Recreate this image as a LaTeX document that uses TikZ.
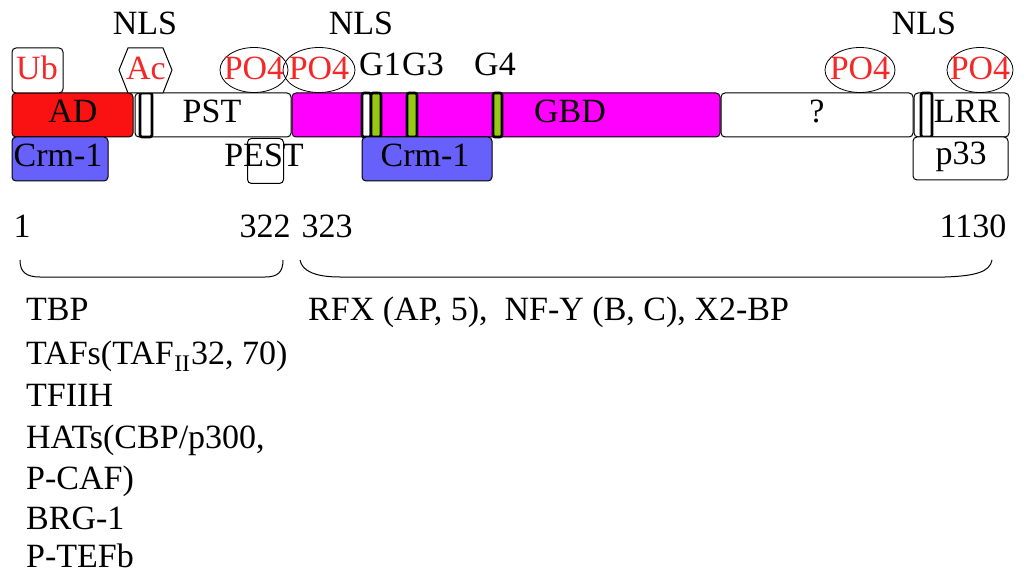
\documentclass[tikz,border=0pt]{standalone}
\usepackage{fontspec}
\setmainfont{Liberation Serif}
\usetikzlibrary{shapes.geometric}
\definecolor{adred}{RGB}{250,18,18}
\definecolor{gbdmag}{RGB}{255,0,255}
\definecolor{crmblue}{RGB}{104,96,250}
\definecolor{ggreen}{RGB}{150,200,20}
\definecolor{lblred}{RGB}{245,40,40}
\begin{document}
\begin{tikzpicture}[x=1pt,y=-1pt,
  seg/.style={draw, line width=1pt, rounded corners=4pt, inner sep=0pt, outer sep=0pt, anchor=north west},
  txt/.style={font=\fontsize{34}{40}\selectfont, inner sep=0pt, anchor=base},
  ltxt/.style={txt, anchor=base west},
  rtxt/.style={txt, text=lblred},
  nlsbar/.style={draw, line width=2.6pt, fill=white, rounded corners=2pt, inner sep=0pt, outer sep=0pt, anchor=north west, minimum height=44pt},
  gbar/.style={nlsbar, fill=ggreen},
  po/.style={ellipse, draw, line width=0.8pt, inner sep=0pt, minimum height=45pt},
  brace/.style={line width=1pt}
]
\useasboundingbox (0,0) rectangle (1024,577);

% main bar
\node[seg, fill=adred, minimum width=121pt, minimum height=44pt] (ad) at (12,93) {};
\node[seg, fill=white, minimum width=156pt, minimum height=44pt] (pst) at (135,93) {};
\node[seg, fill=gbdmag, minimum width=428pt, minimum height=44pt] (gbd) at (292,93) {};
\node[seg, fill=white, minimum width=192pt, minimum height=44pt] (unk) at (721,93) {};
\node[seg, fill=white, minimum width=95pt, minimum height=44pt] (lrr) at (914,93) {};

% NLS and G bars
\node[nlsbar, minimum width=12pt] (nls1) at (140,93) {};
\node[nlsbar, minimum width=9pt] (g1w) at (362,93) {};
\node[gbar, minimum width=10pt] (g1) at (371,93) {};
\node[gbar, minimum width=10pt] (g3) at (407,93) {};
\node[gbar, minimum width=9pt] (g4) at (493,93) {};
\node[nlsbar, minimum width=11pt] (nls3) at (921,93) {};

% lower boxes
\node[seg, fill=crmblue, minimum width=96pt, minimum height=44pt] (crm1) at (12,137) {};
\node[seg, fill=crmblue, minimum width=130pt, minimum height=44pt] (crm2) at (362,137) {};
\node[seg, fill=white, minimum width=95pt, minimum height=43pt] (p33) at (913,137) {};

% upper modifiers
\node[seg, fill=white, minimum width=51pt, minimum height=45pt] (ub) at (12,48) {};
\draw[line width=1pt, fill=white] (119,70) -- (128,48) -- (163,48) -- (172,70) -- (163,93) -- (128,93) -- cycle;
\coordinate (ac) at (146,70);
\node[po, minimum width=68pt] (po1) at (254,70) {};
\node[po, minimum width=72pt] (po2) at (319,70) {};
\node[po, minimum width=70pt] (po3) at (860,70) {};
\node[po, minimum width=66pt] (po4) at (980,70) {};

% texts in bar
\node[txt] (tad) at (73,123) {AD};
\node[txt] (tpst) at (212,123) {PST};
\node[txt] (tgbd) at (570,123) {GBD};
\node[txt] (tunk) at (817,123) {?};
\node[txt] (tlrr) at (967,123) {LRR};
\node[txt] (tcrm1) at (58,167) {Crm-1};
\node[txt] (tcrm2) at (425,167) {Crm-1};
\node[txt] (tpest) at (264,167) {PEST};
\node[draw, line width=1pt, rounded corners=4pt, inner sep=0pt, anchor=north west, minimum width=36pt, minimum height=45pt] (pest) at (247,138) {};
\node[txt] (tp33) at (961,165) {p33};

% upper labels
\node[rtxt] (tub) at (37,80) {Ub};
\node[rtxt] (tac) at (146,80) {Ac};
\node[rtxt] (tpo1) at (254,80) {PO4};
\node[rtxt] (tpo2) at (319,80) {PO4};
\node[rtxt] (tpo3) at (860,80) {PO4};
\node[rtxt] (tpo4) at (980,80) {PO4};
\node[txt] (nlsa) at (145,35) {NLS};
\node[txt] (nlsb) at (361,35) {NLS};
\node[txt] (nlsc) at (924,35) {NLS};
\node[txt] (tg1) at (380,76) {G1};
\node[txt] (tg3) at (423,76) {G3};
\node[txt] (tg4) at (495,76) {G4};

% numbers
\node[txt] (n1) at (22,237) {1};
\node[txt] (n322) at (265,237) {322};
\node[txt] (n323) at (327,237) {323};
\node[txt] (n1130) at (973,237) {1130};

% braces
\draw[brace] (20,260) .. controls (20,272) and (26,277) .. (40,277) -- (265,277) .. controls (278,277) and (283,272) .. (283,260);
\draw[brace] (300,260) .. controls (302,271) and (315,277) .. (340,277) -- (945,277) .. controls (975,276) and (990,272) .. (992,260);

% lists
\node[ltxt] (l1) at (26,320) {TBP};
\node[ltxt] (l2) at (26,364) {TAFs(TAF\textsubscript{\kern0.5pt II\kern0.5pt}32, 70)};
\node[ltxt] (l3) at (26,406) {TFIIH};
\node[ltxt] (l4) at (26,448) {HATs(CBP/p300,};
\node[ltxt] (l5) at (26,489) {P-CAF)};
\node[ltxt] (l6) at (26,529) {BRG-1};
\node[ltxt] (l7) at (26,567) {P-TEFb};
\node[ltxt] (r1) at (308,320) {RFX (AP, 5),\ \ NF-Y (B, C), X2-BP};
\end{tikzpicture}
\end{document}
